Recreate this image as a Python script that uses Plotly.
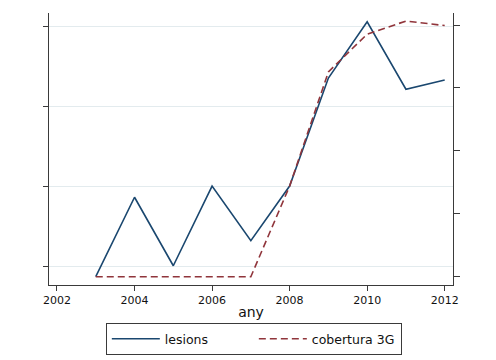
import plotly.graph_objects as go

years = [2003, 2004, 2005, 2006, 2007, 2008, 2009, 2010, 2011, 2012]
lesions = [93.8, 143.4, 100.6, 150.4, 116.3, 150.4, 217.9, 253.1, 210.9, 216.7]
cobertura_3g = [0, 0, 0, 0, 0, 36.0, 81.4, 96.4, 101.6, 99.8]
x_ticks = [2002, 2004, 2006, 2008, 2010, 2012]
left_ticks = [100, 150, 200, 250]
right_ticks = [0, 25, 50, 75, 100]

AX = "#3a3a3a"
FONT = "DejaVu Sans"

fig = go.Figure()
fig.add_trace(go.Scatter(x=years, y=lesions, mode="lines", name="lesions",
                         line=dict(color="#1a476f", width=1.6), yaxis="y"))
fig.add_trace(go.Scatter(x=years, y=cobertura_3g, mode="lines", name="cobertura 3G",
                         line=dict(color="#90353b", width=1.6, dash="7px,4px"), yaxis="y2"))

# page body has an 8px default margin, so the figure is 8px smaller
fig.update_layout(
    width=488, height=352,
    margin=dict(l=41, r=43, t=5, b=75, autoexpand=False),
    paper_bgcolor="white", plot_bgcolor="white",
    font=dict(family=FONT, color="#111111"),
    showlegend=True,
    legend=dict(orientation="h", x=0.507, xanchor="center", y=-0.14, yanchor="top",
                bordercolor=AX, borderwidth=1, font=dict(size=12.5, family=FONT),
                itemwidth=48, entrywidth=84, entrywidthmode="pixels",
                tracegroupgap=0, bgcolor="white"),
    xaxis=dict(range=[2001.794, 2012.214], tickvals=x_ticks, ticks="outside", ticklen=5,
               tickcolor=AX, showline=True, linecolor=AX, linewidth=1.3, showgrid=False,
               zeroline=False, tickfont=dict(size=11, family=FONT, color="#111111"),
               title=dict(text="any", font=dict(size=14, family=FONT), standoff=0)),
    yaxis=dict(range=[88.56, 258.56], tickvals=left_ticks, showticklabels=False,
               ticks="outside", ticklen=5, tickcolor=AX, showline=True, linecolor=AX,
               linewidth=1.3, showgrid=True, gridcolor="#e3ebee", gridwidth=1, zeroline=False),
    yaxis2=dict(range=[-3.3, 104.8], tickvals=right_ticks, showticklabels=False,
                overlaying="y", side="right", ticks="outside", ticklen=6, tickcolor=AX,
                showline=True, linecolor=AX, linewidth=1.3, showgrid=False, zeroline=False),
)

fig.write_html("out.html")
